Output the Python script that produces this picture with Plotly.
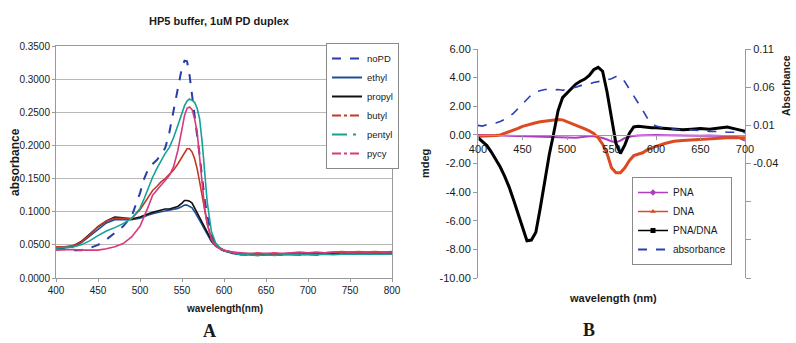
import plotly.graph_objects as go

W, H = 796, 343

# ---------------- Panel A data ----------------
WL_A = [400, 410, 420, 430, 440, 450, 460, 470, 480, 490, 500, 505, 510, 515, 520, 525, 530, 535,
        540, 545, 550, 553, 556, 559, 562, 565, 568, 571, 574, 577, 580, 585, 590, 595, 600, 610,
        620, 630, 640, 650, 660, 670, 680, 690, 700, 710, 720, 730, 740, 750, 760, 770, 780, 790, 800]

NOPD = [0.045, 0.043, 0.042, 0.042, 0.045, 0.050, 0.058, 0.068, 0.078, 0.093, 0.128, 0.150, 0.165,
        0.172, 0.178, 0.186, 0.196, 0.220, 0.252, 0.285, 0.318, 0.328, 0.327, 0.306, 0.278, 0.245,
        0.215, 0.185, 0.150, 0.118, 0.095, 0.065, 0.050, 0.044, 0.041, 0.038, 0.036, 0.035, 0.036,
        0.035, 0.036, 0.035, 0.036, 0.035, 0.036, 0.035, 0.036, 0.037, 0.036, 0.037, 0.038, 0.037,
        0.038, 0.037, 0.038]
ETHYL = [0.044, 0.045, 0.047, 0.053, 0.063, 0.074, 0.083, 0.088, 0.088, 0.088, 0.090, 0.093, 0.095,
         0.097, 0.099, 0.100, 0.101, 0.102, 0.103, 0.105, 0.108, 0.110, 0.110, 0.108, 0.106, 0.100,
         0.094, 0.087, 0.080, 0.073, 0.066, 0.055, 0.048, 0.044, 0.041, 0.037, 0.035, 0.035, 0.034,
         0.035, 0.035, 0.036, 0.035, 0.036, 0.035, 0.036, 0.036, 0.037, 0.036, 0.037, 0.037, 0.038,
         0.037, 0.038, 0.037]
PROPYL = [0.045, 0.046, 0.048, 0.055, 0.066, 0.077, 0.086, 0.092, 0.091, 0.089, 0.092, 0.095, 0.097,
          0.099, 0.101, 0.102, 0.104, 0.104, 0.106, 0.108, 0.113, 0.117, 0.117, 0.116, 0.113, 0.106,
          0.099, 0.092, 0.085, 0.077, 0.069, 0.057, 0.049, 0.045, 0.042, 0.038, 0.036, 0.036, 0.035,
          0.036, 0.035, 0.036, 0.036, 0.037, 0.036, 0.037, 0.037, 0.038, 0.037, 0.038, 0.038, 0.037,
          0.038, 0.038, 0.038]
BUTYL = [0.047, 0.047, 0.049, 0.054, 0.065, 0.078, 0.086, 0.090, 0.090, 0.090, 0.103, 0.113, 0.124,
         0.132, 0.138, 0.145, 0.150, 0.156, 0.163, 0.172, 0.183, 0.190, 0.195, 0.195, 0.190, 0.180,
         0.165, 0.145, 0.122, 0.100, 0.082, 0.060, 0.050, 0.045, 0.042, 0.039, 0.037, 0.037, 0.036,
         0.037, 0.036, 0.037, 0.037, 0.038, 0.037, 0.038, 0.038, 0.039, 0.038, 0.039, 0.039, 0.038,
         0.039, 0.038, 0.039]
PENTYL = [0.045, 0.046, 0.047, 0.050, 0.056, 0.064, 0.071, 0.076, 0.082, 0.090, 0.105, 0.120, 0.137,
          0.152, 0.165, 0.177, 0.188, 0.197, 0.212, 0.230, 0.250, 0.260, 0.267, 0.270, 0.268, 0.265,
          0.256, 0.240, 0.205, 0.160, 0.115, 0.070, 0.053, 0.046, 0.041, 0.038, 0.035, 0.035, 0.034,
          0.035, 0.034, 0.035, 0.035, 0.034, 0.035, 0.035, 0.036, 0.035, 0.036, 0.036, 0.037, 0.036,
          0.037, 0.036, 0.036]
PYCY = [0.042, 0.043, 0.043, 0.042, 0.042, 0.042, 0.044, 0.047, 0.052, 0.062, 0.078, 0.092, 0.108,
        0.125, 0.133, 0.140, 0.147, 0.155, 0.168, 0.192, 0.225, 0.245, 0.256, 0.258, 0.254, 0.240,
        0.220, 0.185, 0.140, 0.105, 0.082, 0.058, 0.048, 0.044, 0.042, 0.039, 0.038, 0.037, 0.038,
        0.037, 0.038, 0.037, 0.038, 0.039, 0.038, 0.039, 0.038, 0.039, 0.040, 0.039, 0.040, 0.039,
        0.040, 0.039, 0.040]

NAMES_A = ["noPD", "ethyl", "propyl", "butyl", "pentyl", "pycy"]
VALUES_A = [NOPD, ETHYL, PROPYL, BUTYL, PENTYL, PYCY]
COLORS_A = ["#2b3ca6", "#1f4e96", "#111111", "#c23a26", "#17a096", "#d63a7c"]
CURVE_DASH_A = ["dash", "solid", "solid", "solid", "solid", "solid"]
LEGEND_DASH_A = ["dash", "solid", "solid", "dashdot", "longdashdot", "dashdot"]
TICKS_A_Y = [0, 0.05, 0.10, 0.15, 0.20, 0.25, 0.30, 0.35]
TICKS_A_X = [400, 450, 500, 550, 600, 650, 700, 750, 800]

# ---------------- Panel B data ----------------
WL_B = [400, 405, 410, 415, 420, 425, 430, 435, 440, 445, 450, 455, 460, 465, 470, 475, 480, 485,
        490, 495, 500, 505, 510, 515, 520, 525, 530, 535, 540, 545, 550, 555, 560, 565, 570, 575,
        580, 585, 590, 595, 600, 610, 620, 630, 640, 650, 660, 670, 680, 690, 700]

PNA = [0.00, -0.02, -0.03, -0.03, -0.04, -0.04, -0.05, -0.05, -0.06, -0.06, -0.07, -0.08, -0.10,
       -0.12, -0.14, -0.15, -0.16, -0.17, -0.18, -0.19, -0.20, -0.20, -0.20, -0.16, -0.12, -0.10,
       -0.10, -0.14, -0.22, -0.32, -0.45, -0.52, -0.40, -0.22, -0.12, -0.07, -0.04, -0.02, -0.01,
       0.00, 0.00, -0.02, -0.04, -0.05, -0.04, -0.06, -0.05, -0.07, -0.08, -0.12, -0.40]
DNA = [-0.10, -0.10, -0.10, -0.08, -0.05, 0.00, 0.10, 0.20, 0.30, 0.45, 0.60, 0.70, 0.78, 0.85,
       0.92, 0.96, 1.00, 1.06, 1.08, 1.05, 0.93, 0.82, 0.70, 0.56, 0.42, 0.28, 0.10, -0.20, -0.65,
       -1.30, -2.30, -2.65, -2.65, -2.30, -1.80, -1.45, -1.35, -1.25, -1.05, -0.90, -0.80, -0.60,
       -0.45, -0.40, -0.35, -0.35, -0.30, -0.25, -0.20, -0.20, -0.20]
PNA_DNA = [-0.20, -0.45, -0.75, -1.20, -1.70, -2.25, -2.90, -3.65, -4.55, -5.50, -6.45, -7.40,
           -7.35, -6.80, -5.10, -3.20, -1.40, 0.10, 1.70, 2.60, 2.92, 3.25, 3.55, 3.75, 3.90, 4.15,
           4.55, 4.72, 4.45, 3.00, 1.10, -0.60, -1.30, -0.70, 0.10, 0.55, 0.60, 0.55, 0.50, 0.50,
           0.50, 0.45, 0.35, 0.35, 0.40, 0.45, 0.40, 0.45, 0.55, 0.40, 0.25]
ABSORB = [0.010, 0.009, 0.011, 0.012, 0.013, 0.015, 0.018, 0.021, 0.026, 0.032, 0.039, 0.044,
          0.050, 0.054, 0.056, 0.057, 0.057, 0.056, 0.057, 0.056, 0.057, 0.058, 0.060, 0.062,
          0.063, 0.064, 0.066, 0.067, 0.068, 0.069, 0.071, 0.074, 0.074, 0.067, 0.058, 0.049,
          0.040, 0.030, 0.020, 0.013, 0.009, 0.006, 0.005, 0.004, 0.004, 0.003, 0.002, 0.002,
          0.001, 0.001, 0.0005]

TICKS_B_X = [400, 450, 500, 550, 600, 650, 700]
TICKS_B_Y = [-10, -8, -6, -4, -2, 0, 2, 4, 6]
TICKS_B_Y2 = [0.11, 0.06, 0.01, -0.04, -0.09, -0.14, -0.19]
TICKTEXT_B_Y2 = ["0.11", "0.06", "0.01", "-0.04", "", "", ""]

FONT = "Arial, Liberation Sans, sans-serif"
SERIF = "Times New Roman, Liberation Serif, serif"
AXC = "#9a9a9a"
TXT = "#1a1a1a"

# pixel layout -> paper coords
def px(x):
    return x / W

def py(y):
    return 1 - y / H

A_X = [px(56), px(392)]
A_Y = [py(278), py(46)]
B_X = [px(478), px(745)]
B_Y = [py(278), py(49)]
B_RANGE = [-10, 6]
xpos_b = B_Y[0] + (0 - B_RANGE[0]) / (B_RANGE[1] - B_RANGE[0]) * (B_Y[1] - B_Y[0])

fig = go.Figure()

# Panel A curves
for name, vals, col, dash in zip(NAMES_A, VALUES_A, COLORS_A, CURVE_DASH_A):
    fig.add_trace(go.Scatter(x=WL_A, y=vals, mode="lines", name=name, showlegend=False,
                             line=dict(color=col, width=2 if dash == "dash" else 1.6, dash=dash),
                             xaxis="x", yaxis="y", hoverinfo="skip"))
# Panel A legend entries
for name, col, dash in zip(NAMES_A, COLORS_A, LEGEND_DASH_A):
    fig.add_trace(go.Scatter(x=[None], y=[None], mode="lines", name=name, legend="legend",
                             line=dict(color=col, width=2, dash=dash), xaxis="x", yaxis="y"))

# Panel B curves
B_SERIES = [
    ("PNA", PNA, "#b03cc2", 2.0, "diamond", "y2", "solid"),
    ("DNA", DNA, "#dc4a22", 3.0, "triangle-up", "y2", "solid"),
    ("PNA/DNA", PNA_DNA, "#000000", 3.0, "square", "y2", "solid"),
    ("absorbance", ABSORB, "#2b3fb5", 1.6, None, "y3", "dash"),
]
for name, vals, col, w, sym, yax, dash in B_SERIES:
    fig.add_trace(go.Scatter(x=WL_B, y=vals, mode="lines", name=name, showlegend=False,
                             line=dict(color=col, width=w, dash=dash),
                             xaxis="x2", yaxis=yax, hoverinfo="skip"))
for name, vals, col, w, sym, yax, dash in B_SERIES:
    if sym:
        fig.add_trace(go.Scatter(x=[None], y=[None], mode="lines+markers", name=name,
                                 legend="legend2", line=dict(color=col, width=1.5),
                                 marker=dict(symbol=sym, size=5, color=col),
                                 xaxis="x2", yaxis="y2"))
    else:
        fig.add_trace(go.Scatter(x=[None], y=[None], mode="lines", name=name,
                                 legend="legend2", line=dict(color=col, width=2, dash="dash"),
                                 xaxis="x2", yaxis="y2"))

fig.update_layout(
    width=W, height=H,
    margin=dict(l=0, r=0, t=0, b=0, autoexpand=False),
    paper_bgcolor="white", plot_bgcolor="white",
    font=dict(family=FONT, color=TXT, size=10),
    xaxis=dict(domain=A_X, range=[400, 800], tickvals=TICKS_A_X, anchor="y", automargin=False,
               showline=True, linecolor=AXC, mirror=True, ticks="outside", ticklen=3,
               tickcolor=AXC, showgrid=False, zeroline=False, tickfont=dict(size=10)),
    yaxis=dict(domain=A_Y, range=[0, 0.35], tickvals=TICKS_A_Y, tickformat=".4f", anchor="x",
               automargin=False,
               showline=True, linecolor=AXC, mirror=True, ticks="outside", ticklen=3,
               tickcolor=AXC, showgrid=True, gridcolor="#b8b8b8", zeroline=False,
               tickfont=dict(size=10)),
    xaxis2=dict(domain=B_X, range=[400, 700], tickvals=TICKS_B_X, anchor="free",
                automargin=False,
                position=xpos_b, showline=True, linecolor=AXC, ticks="outside", ticklen=4,
                tickcolor=AXC, showgrid=False, zeroline=False, tickfont=dict(size=11)),
    yaxis2=dict(domain=B_Y, range=B_RANGE, tickvals=TICKS_B_Y, automargin=False,
                ticktext=[f"{v:.2f}" for v in TICKS_B_Y], anchor="x2",
                showline=True, linecolor=AXC, ticks="outside", ticklen=4, tickcolor=AXC,
                showgrid=False, zeroline=False, tickfont=dict(size=11)),
    yaxis3=dict(range=[-0.19, 0.11], tickvals=TICKS_B_Y2, ticktext=TICKTEXT_B_Y2,
                overlaying="y2", side="right", anchor="x2", automargin=False,
                showline=True, linecolor=AXC, ticks="outside", ticklen=5, tickcolor=AXC,
                showgrid=False, zeroline=False, tickfont=dict(size=11)),
    legend=dict(x=px(326), y=py(106), xanchor="left", yanchor="middle", bgcolor="white",
                bordercolor="#8a8a8a", borderwidth=1, itemwidth=30,
                font=dict(size=9.5, family=FONT), tracegroupgap=0),
    legend2=dict(x=px(632), y=py(221), xanchor="left", yanchor="middle", bgcolor="white",
                 bordercolor="#8a8a8a", borderwidth=1, itemwidth=30,
                 font=dict(size=10, family=FONT), tracegroupgap=0),
    showlegend=True,
)

ann = [
    dict(text="<b>HP5 buffer, 1uM PD duplex</b>", x=px(219), y=py(21), size=11, angle=0, fam=FONT, ya="middle"),
    dict(text="<b>absorbance</b>", x=px(15), y=py(162), size=12, angle=-90, fam=FONT, ya="middle"),
    dict(text="<b>wavelength(nm)</b>", x=px(224), y=py(308), size=10, angle=0, fam=FONT, ya="middle"),
    dict(text="<b>A</b>", x=px(210), y=py(343), size=18, angle=0, fam=SERIF, ya="bottom"),
    dict(text="<b>mdeg</b>", x=px(425), y=py(163), size=11, angle=-90, fam=FONT, ya="middle"),
    dict(text="<b>Absorbance</b>", x=px(786), y=py(86), size=10.5, angle=-90, fam=FONT, ya="middle"),
    dict(text="<b>wavelength (nm)</b>", x=px(613), y=py(298), size=11, angle=0, fam=FONT, ya="middle"),
    dict(text="<b>B</b>", x=px(589), y=py(342), size=18, angle=0, fam=SERIF, ya="bottom"),
]
for a in ann:
    fig.add_annotation(text=a["text"], x=a["x"], y=a["y"], xref="paper", yref="paper",
                       xanchor="center", yanchor=a["ya"], showarrow=False,
                       textangle=a["angle"], font=dict(size=a["size"], family=a["fam"], color=TXT))

fig.write_html("out.html", config={"displayModeBar": False},
               post_script="document.body.style.margin='0';document.body.style.overflow='hidden';")
